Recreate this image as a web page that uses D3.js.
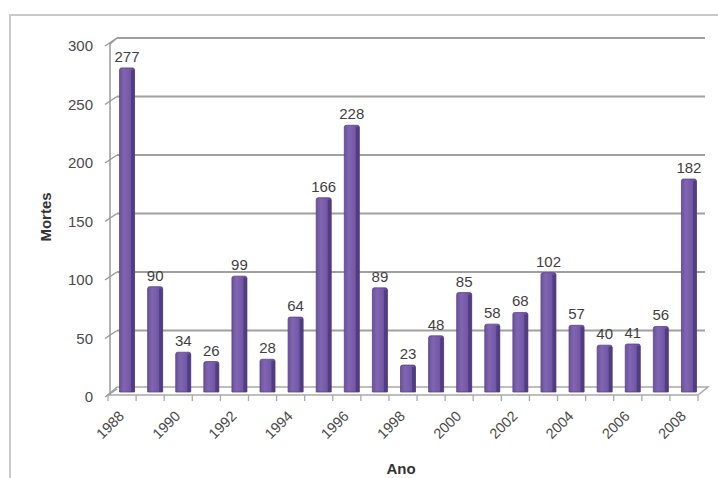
<!DOCTYPE html>
<html>
<head>
<meta charset="utf-8">
<script src="https://cdn.jsdelivr.net/npm/d3@7"></script>
<style>
  html, body { margin: 0; padding: 0; background: #fff; }
  svg { display: block; font-family: "Liberation Sans", Arial, sans-serif; }
</style>
</head>
<body>
<svg id="chart" width="718" height="478"></svg>
<script>
// Annual deaths per year
const years = [1988, 1989, 1990, 1991, 1992, 1993, 1994, 1995, 1996, 1997, 1998,
               1999, 2000, 2001, 2002, 2003, 2004, 2005, 2006, 2007, 2008];
const deaths = [277, 90, 34, 26, 99, 28, 64, 166, 228, 89, 23,
                48, 85, 58, 68, 102, 57, 40, 41, 56, 182];
const yTicks = [0, 50, 100, 150, 200, 250, 300];
const xLabelYears = years.filter(y => y % 2 === 0);

const svg = d3.select("#chart");

// depth offsets of the pseudo-3D plot box
const DEPTH_X = 5, BACK_DY = -3, FRONT_DY = 5;

const x = d3.scaleBand().domain(years).range([113, 703]).paddingInner(0).paddingOuter(0);
const y = d3.scaleLinear().domain([0, 300]).range([392, 41]);

const defs = svg.append("defs");
const grad = defs.append("linearGradient").attr("id", "barFace")
  .attr("x1", "0").attr("x2", "1").attr("y1", "0").attr("y2", "0");
grad.append("stop").attr("offset", "0%").attr("stop-color", "#6a529c");
grad.append("stop").attr("offset", "30%").attr("stop-color", "#8066b2");
grad.append("stop").attr("offset", "75%").attr("stop-color", "#7056a4");
grad.append("stop").attr("offset", "100%").attr("stop-color", "#5c468c");

// outer chart frame
svg.append("rect")
  .attr("x", 10).attr("y", 15).attr("width", 740).attr("height", 500)
  .attr("fill", "none").attr("stroke", "#c9c9c9").attr("stroke-width", 2);

const x0 = x.range()[0], x1 = x.range()[1];

// back-wall gridlines
svg.append("g").selectAll("line").data(yTicks.filter(v => v > 0)).join("line")
  .attr("x1", x0 + DEPTH_X - 1).attr("x2", x1 + DEPTH_X - 3)
  .attr("y1", d => y(d) + BACK_DY).attr("y2", d => y(d) + BACK_DY)
  .attr("stroke", "#a0a0a0").attr("stroke-width", 1.8);

// floor
const fl = svg.append("g").attr("fill", "none").attr("stroke", "#a9a9a9").attr("stroke-width", 1.5);
fl.append("path")
  .attr("d", `M${x0 - 5},${y(0) + 3} L${x1 - 5},${y(0) + 3} L${x1 + DEPTH_X},${y(0) - 5} L${x0 + DEPTH_X - 1},${y(0) - 5} Z`);

// left wall / value axis
const ax = svg.append("g").attr("stroke", "#9a9a9a").attr("stroke-width", 1.5).attr("fill", "none");
ax.append("path")
  .attr("d", `M${x0 - 3},${y(0) + 3} L${x0 - 3},${y(300) + 3} L${x0 + DEPTH_X - 1},${y(300) + BACK_DY}`);
ax.selectAll("line.tk").data(yTicks).join("line").attr("class", "tk")
  .attr("x1", x0 - 8).attr("y1", d => y(d) + FRONT_DY)
  .attr("x2", x0 + DEPTH_X - 1).attr("y2", d => y(d) + BACK_DY);

// category ticks under the floor
const bounds = years.map(d => x(d)).concat([x1]);
svg.append("g").selectAll("line").data(bounds).join("line")
  .attr("x1", d => d - 5).attr("x2", d => d - 5)
  .attr("y1", y(0) + 3).attr("y2", y(0) + 9)
  .attr("stroke", "#a9a9a9").attr("stroke-width", 1.3);

// y tick labels
svg.append("g").selectAll("text").data(yTicks).join("text")
  .attr("x", 93).attr("y", d => y(d) + FRONT_DY)
  .attr("dy", "0.36em").attr("text-anchor", "end")
  .attr("font-size", 15).attr("fill", "#4a4a4a")
  .text(d => d);

// bars
const bw = 15;
const bars = svg.append("g").selectAll("g").data(years.map((yr, i) => ({ yr, v: deaths[i] }))).join("g");
bars.append("path")
  .attr("d", d => {
    const cx = x(d.yr) + x.bandwidth() / 2, l = cx - bw / 2, r = cx + bw / 2, t = y(d.v), b = y(0);
    return `M${l},${b} L${l},${t + 2} Q${l},${t} ${l + 2},${t} L${r - 2},${t} Q${r},${t} ${r},${t + 2} L${r},${b} Z`;
  })
  .attr("fill", "url(#barFace)")
  .attr("stroke", "#5a4388").attr("stroke-width", 0.8);
bars.append("rect")
  .attr("x", d => x(d.yr) + x.bandwidth() / 2 + bw / 2 - 3.5)
  .attr("y", d => y(d.v) + 2)
  .attr("width", 3.5)
  .attr("height", d => y(0) - y(d.v) - 2)
  .attr("fill", "#4e3a7c").attr("opacity", 0.85);

// value labels
bars.append("text")
  .attr("x", d => x(d.yr) + x.bandwidth() / 2)
  .attr("y", d => y(d.v) - 6)
  .attr("text-anchor", "middle")
  .attr("font-size", 15).attr("fill", "#3f3f3f")
  .text(d => d.v);

// x tick labels
svg.append("g").selectAll("text").data(xLabelYears).join("text")
  .attr("transform", d => `translate(${x(d) + x.bandwidth() / 2 - 2},${y(0) + 25}) rotate(-45)`)
  .attr("text-anchor", "end")
  .attr("font-size", 14.5).attr("fill", "#4a4a4a")
  .text(d => d);

// axis titles
svg.append("text")
  .attr("transform", "translate(51,217) rotate(-90)")
  .attr("text-anchor", "middle")
  .attr("font-size", 15).attr("font-weight", "bold").attr("fill", "#333")
  .text("Mortes");
svg.append("text")
  .attr("x", 401).attr("y", 474)
  .attr("text-anchor", "middle")
  .attr("font-size", 15).attr("font-weight", "bold").attr("fill", "#333")
  .text("Ano");
</script>
</body>
</html>
